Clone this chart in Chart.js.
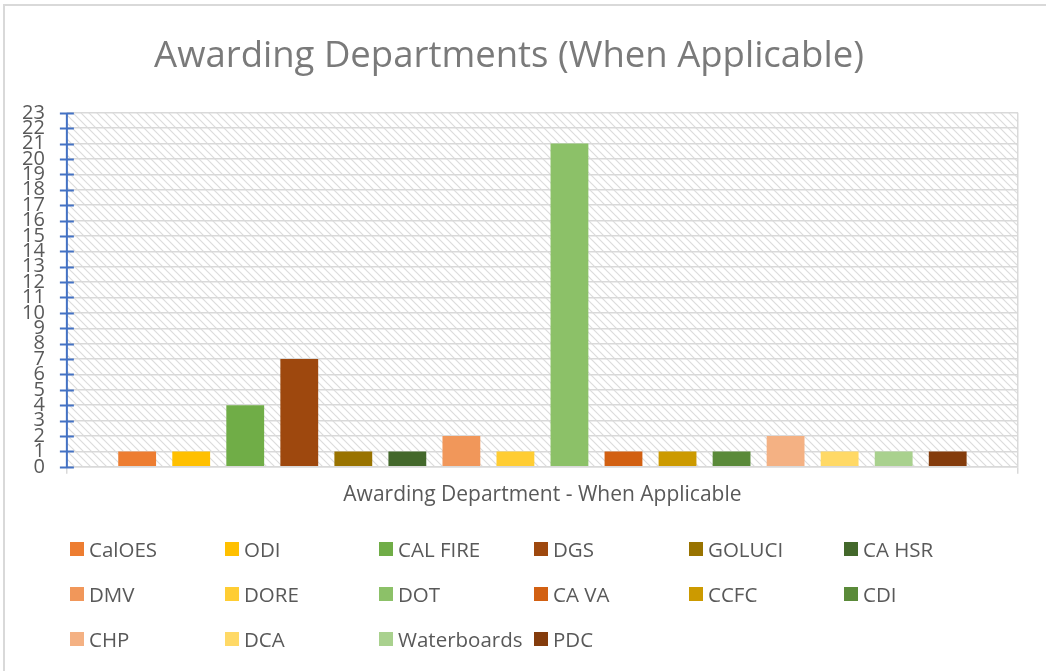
<!DOCTYPE html>
<html>
<head>
<meta charset="utf-8">
<script src="https://cdn.jsdelivr.net/npm/chart.js@4"></script>
<style>
  html, body { margin: 0; padding: 0; background: #fff; }
  #wrap { position: relative; width: 1046px; height: 671px; overflow: hidden; }
  #frame { position: absolute; left: 3px; top: 4px; right: 0; bottom: 0; border-top: 2px solid #d9d9d9; border-left: 2px solid #d9d9d9; pointer-events: none; }
  canvas { position: absolute; left: 0; top: 0; }
  #legend { position: absolute; left: 0; top: 0; width: 1046px; height: 671px; pointer-events: none; font-family: 'Open Sans', sans-serif; font-size: 20.5px; color: #595959; }
  .item { position: absolute; display: flex; align-items: center; white-space: nowrap; height: 30px; }
  .box { width: 14px; height: 14px; margin-right: 5px; }
</style>
</head>
<body>
<div id="wrap">
  <canvas id="c" width="1046" height="671"></canvas>
  <div id="frame"></div>
  <div id="legend"></div>
</div>
<script>
const departments = ['CalOES','ODI','CAL FIRE','DGS','GOLUCI','CA HSR','DMV','DORE','DOT','CA VA','CCFC','CDI','CHP','DCA','Waterboards','PDC'];
const counts = [1,1,4,7,1,1,2,1,21,1,1,1,2,1,1,1];
const colors = ['#ED7D31','#FFC000','#70AD47','#9E480E','#997300','#43682B','#F1975A','#FFCD33','#8CC168','#D26012','#CC9A00','#5A8A39','#F4B183','#FFD966','#A9D18E','#843C0C'];
const categories = [''];
const yMax = 23;

const FONT = "'Open Sans', sans-serif";

function makePattern(ctx) {
  const p = document.createElement('canvas');
  p.width = 8; p.height = 8;
  const g = p.getContext('2d');
  g.fillStyle = '#ffffff';
  g.fillRect(0, 0, 8, 8);
  g.strokeStyle = '#dcdcdc';
  g.lineWidth = 1.2;
  g.beginPath();
  g.moveTo(-2, -2); g.lineTo(10, 10);
  g.moveTo(-2, 6); g.lineTo(2, 10);
  g.moveTo(6, -2); g.lineTo(10, 2);
  g.stroke();
  return ctx.createPattern(p, 'repeat');
}

const hatchPlugin = {
  id: 'hatch',
  beforeDraw(chart) {
    const { ctx, chartArea: a } = chart;
    ctx.save();
    ctx.fillStyle = makePattern(ctx);
    ctx.fillRect(a.left, a.top, a.right - a.left, a.bottom - a.top);
    ctx.restore();
  }
};

const axisPlugin = {
  id: 'blueAxis',
  afterDraw(chart) {
    const { ctx, chartArea: a } = chart;
    const y = chart.scales.y;
    ctx.save();
    ctx.strokeStyle = '#4472C4';
    ctx.lineWidth = 2;
    ctx.beginPath();
    ctx.moveTo(a.left, a.top);
    ctx.lineTo(a.left, a.bottom);
    y.ticks.forEach(t => {
      const py = Math.round(y.getPixelForValue(t.value)) + 0.5;
      ctx.moveTo(a.left - 7, py);
      ctx.lineTo(a.left + 7, py);
    });
    ctx.stroke();
    ctx.restore();
  }
};

const datasets = departments.map((d, i) => ({
  label: d,
  data: [counts[i]],
  backgroundColor: colors[i],
  borderWidth: 0,
  categoryPercentage: 0.909,
  barPercentage: 0.70
}));

const chart = new Chart(document.getElementById('c'), {
  type: 'bar',
  data: { labels: categories, datasets },
  options: {
    responsive: false,
    animation: false,
    layout: { padding: { left: 0, right: 28, top: 0, bottom: 163 } },
    plugins: {
      legend: { display: false },
      tooltip: { enabled: false },
      title: {
        display: true,
        text: 'Awarding Departments (When Applicable)',
        color: '#7a7a7a',
        font: { family: FONT, size: 36.5, weight: 'normal' },
        padding: { top: 35, bottom: 34 }
      }
    },
    scales: {
      x: {
        grid: { display: true, offset: true, color: '#d9d9d9', lineWidth: 1.5, tickLength: 7, drawTicks: true },
        border: { display: true, color: '#d9d9d9', width: 1.5 },
        ticks: { display: false },
        title: {
          display: true,
          text: 'Awarding Department - When Applicable',
          color: '#595959',
          font: { family: FONT, size: 21 },
          padding: { top: 9, bottom: 0 }
        }
      },
      y: {
        min: 0,
        max: yMax,
        grid: { color: '#d9d9d9', lineWidth: 1.5, drawTicks: false },
        border: { display: false },
        ticks: {
          stepSize: 1,
          autoSkip: false,
          padding: 22,
          color: '#595959',
          font: { family: FONT, size: 20 }
        }
      }
    }
  },
  plugins: [hatchPlugin, axisPlugin]
});

// legend grid
const legend = document.getElementById('legend');
const colX = [70, 225, 379, 534, 689, 844];
const rowY = [549, 594, 639];
departments.forEach((d, i) => {
  const r = Math.floor(i / 6), c = i % 6;
  const el = document.createElement('div');
  el.className = 'item';
  el.style.left = colX[c] + 'px';
  el.style.top = (rowY[r] - 15) + 'px';
  const b = document.createElement('span');
  b.className = 'box';
  b.style.background = colors[i];
  const t = document.createElement('span');
  t.textContent = d;
  el.appendChild(b); el.appendChild(t);
  legend.appendChild(el);
});
</script>
</body>
</html>
